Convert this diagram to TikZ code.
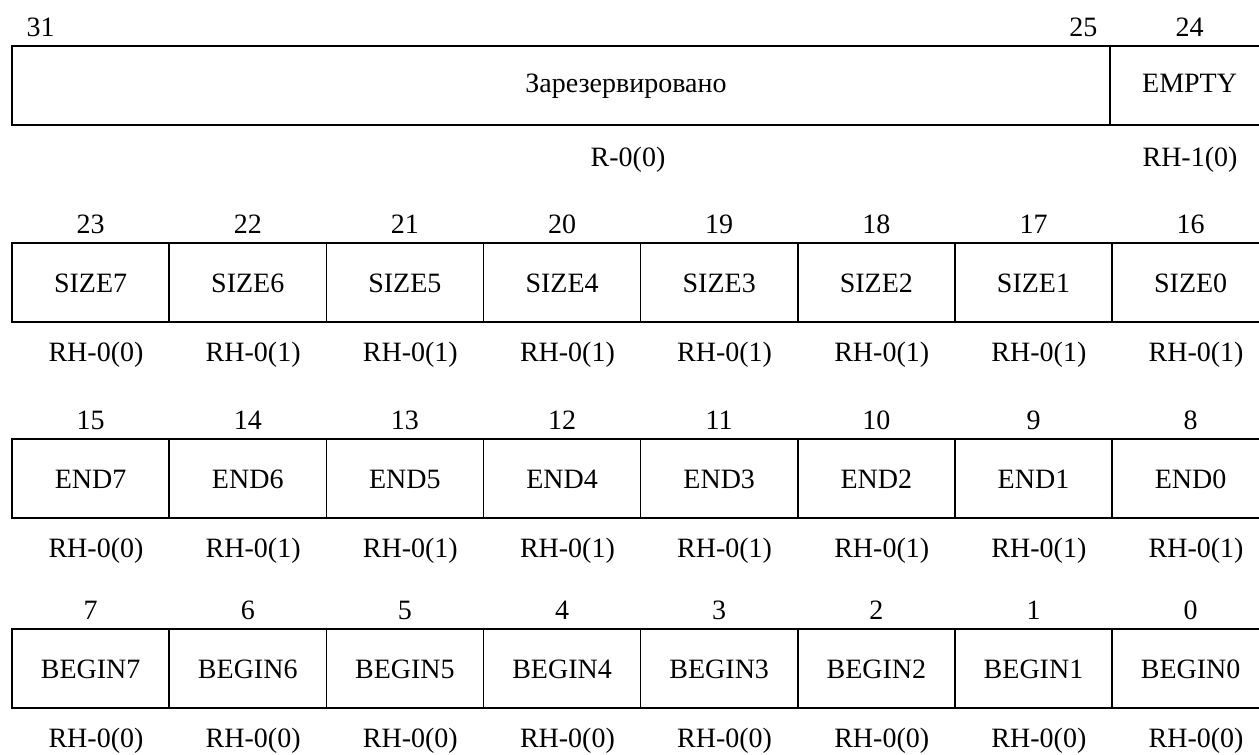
\documentclass[tikz,border=0pt]{standalone}
\usepackage{fontspec}
\setmainfont{Liberation Serif}

\begin{document}
\begin{tikzpicture}[x=1pt, y=-1pt, line width=1.5pt,
    every node/.style={font=\fontsize{28}{32}\selectfont, inner sep=0pt}]
      \clip (0,0) rectangle (1259,755);
      % bits 31..24
      \draw (12,46) rectangle (1110,125);
      \draw (1110,46) rectangle (1280,125);
      \node[anchor=base west] (n31) at (26,36.5) {31};
      \node[anchor=base east] (n25) at (1098,36.5) {25};
      \node[anchor=base] (n24) at (1189.6,36.5) {24};
      \node[anchor=base] (fres) at (626,92) {Зарезервировано};
      \node[anchor=base] (fempty) at (1189.6,92) {EMPTY};
      \node[anchor=base] (ares) at (628,166) {R-0(0)};
      \node[anchor=base] (aempty) at (1190,166) {RH-1(0)};
      % SIZE, END, BEGIN: one row of eight fields each
      \foreach \fld/\yt [count=\r] in {SIZE/243, END/439, BEGIN/629}
        \foreach \j in {0,...,7} {
          \pgfmathsetmacro{\xl}{12+157.15*\j}
          \pgfmathtruncatemacro{\bit}{31-8*\r-\j}
          \pgfmathtruncatemacro{\idx}{7-\j}
          \pgfmathtruncatemacro{\acc}{(\j>0)&&(\r<3)}
          \draw (\xl,\yt) rectangle ++(157.15,79);
          \node[anchor=base] (n\bit) at (\xl+78.6,\yt-9.5) {\bit};
          \node[anchor=base] (f\bit) at (\xl+78.6,\yt+49) {\fld\idx};
          \node[anchor=base] (a\bit) at (\xl+84,\yt+118) {RH-0(\acc)};
        }
    \end{tikzpicture}
\end{document}
